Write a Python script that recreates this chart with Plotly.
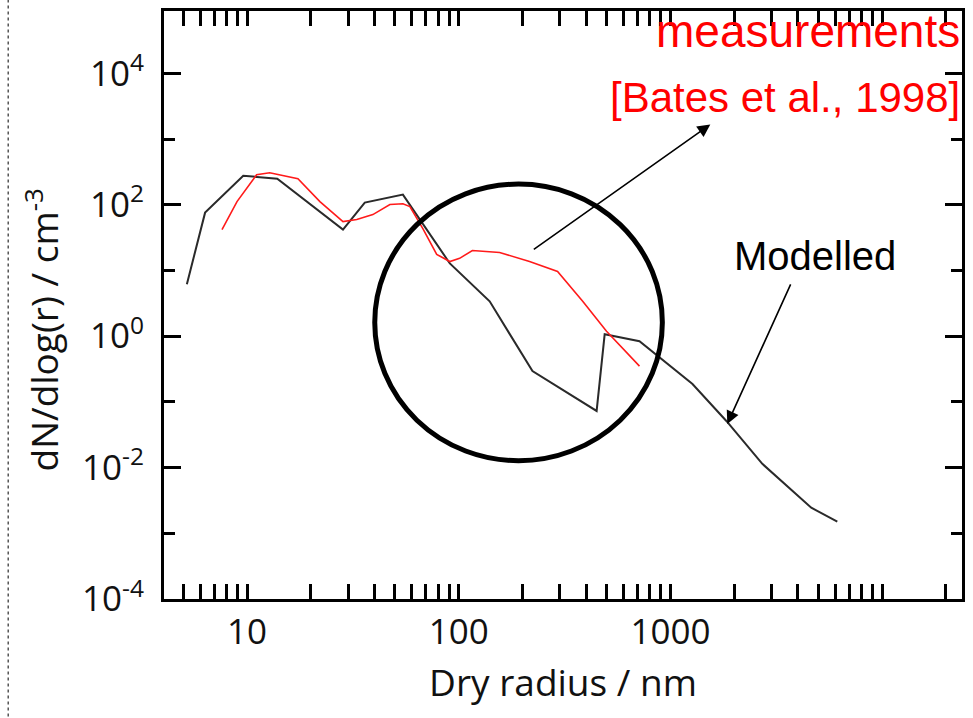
import plotly.graph_objects as go

# Modelled size distribution (dry radius nm, dN/dlog(r) cm^-3)
model_r = [5.2, 6.34, 9.6, 13.9, 28.4, 36, 54.5, 90.8, 140, 223, 448, 489, 714, 1271, 1837, 2716, 4624, 6138]
model_n = [6.2, 76, 277, 250, 42, 108, 143, 12.8, 3.4, 0.294, 0.0728, 1.07, 0.84, 0.187, 0.0513, 0.0114, 0.00245, 0.00151]

# Measurements [Bates et al., 1998]
meas_r = [7.62, 8.97, 11.1, 12.8, 17.4, 22.1, 28.4, 33, 39.3, 47.3, 54.5, 58.8, 67.7, 78.7, 90.8, 101, 116, 156, 216, 293, 385, 499, 714]
meas_n = [42, 112, 287, 308, 250, 112, 55.6, 59.6, 71, 101, 104, 94, 43.5, 17.6, 13.7, 15.3, 20.2, 18.8, 13.7, 9.7, 3.4, 1.19, 0.35]

x_tickvals = [10, 100, 1000]
x_ticktext = ["10", "100", "1000"]
y_major_vals = [1e-4, 1e-2, 1, 1e2, 1e4]
y_major_text = ["10<sup>-4</sup>", "10<sup>-2</sup>", "10<sup>0</sup>", "10<sup>2</sup>", "10<sup>4</sup>"]
y_minor_vals = [1e-3, 1e-1, 1e1, 1e3]

AXFONT = "Open Sans, Lato, sans-serif"
TXTFONT = "Liberation Sans, Arial, sans-serif"

fig = go.Figure()
fig.add_trace(go.Scatter(x=model_r, y=model_n, mode="lines", name="Modelled",
                         line=dict(color="#2a2a2a", width=2)))
fig.add_trace(go.Scatter(x=meas_r, y=meas_n, mode="lines", name="measurements",
                         line=dict(color="#ff1a1a", width=1.6)))

fig.update_layout(
    width=973, height=718,
    margin=dict(l=164, r=10, t=8, b=119),
    paper_bgcolor="white", plot_bgcolor="white",
    showlegend=False,
    font=dict(family=AXFONT, color="black"),
)

fig.update_xaxes(
    type="log", range=[0.608, 4.377],
    tickmode="array", tickvals=x_tickvals, ticktext=x_ticktext,
    ticks="inside", ticklen=15, tickwidth=2.5, tickcolor="black",
    minor=dict(ticks="inside", dtick="D1", ticklen=15, tickwidth=2.5, tickcolor="black", showgrid=False),
    showline=True, linecolor="black", linewidth=3, mirror="ticks",
    showgrid=False, zeroline=False,
    tickfont=dict(family=AXFONT, size=35, color="#111"),
    title=dict(text="Dry radius / nm", font=dict(family=AXFONT, size=37, color="#111"), standoff=18),
)
fig.update_yaxes(
    type="log", range=[-4, 4.95],
    tickmode="array", tickvals=y_major_vals, ticktext=y_major_text,
    ticks="inside", ticklen=17, tickwidth=2.5, tickcolor="black",
    minor=dict(ticks="inside", tickvals=y_minor_vals, ticklen=11, tickwidth=2.5, tickcolor="black", showgrid=False),
    showline=True, linecolor="black", linewidth=3, mirror="ticks",
    showgrid=False, zeroline=False,
    tickfont=dict(family=AXFONT, size=35, color="#111"),
    ticklabelstandoff=10,
)

# left dotted separator line
fig.add_shape(type="line", xref="paper", yref="paper", x0=-0.1952, x1=-0.1952, y0=-0.21, y1=1.02,
              line=dict(color="#555", width=1.5, dash="dot"))

# highlighting ellipse
fig.add_shape(type="circle", xref="paper", yref="paper", x0=0.2641, x1=0.6245, y0=0.2352, y1=0.7056,
              line=dict(color="black", width=5))

# y-axis title as rotated annotation
fig.add_annotation(xref="paper", yref="paper", x=-0.1527, y=0.457, xanchor="center", yanchor="middle",
                   showarrow=False, text="dN/dlog(r) / cm<sup>-3</sup>", textangle=-90,
                   font=dict(family=AXFONT, size=37, color="#111"))

# texts
fig.add_annotation(xref="paper", yref="paper", x=1.0, y=0.966, xanchor="right", yanchor="middle",
                   showarrow=False, text="measurements",
                   font=dict(family=TXTFONT, size=46, color="#ff0000"))
fig.add_annotation(xref="paper", yref="paper", x=1.0, y=0.853, xanchor="right", yanchor="middle",
                   showarrow=False, text="[Bates et al., 1998]",
                   font=dict(family=TXTFONT, size=42, color="#ff0000"))
fig.add_annotation(xref="paper", yref="paper", x=0.816, y=0.583, xanchor="center", yanchor="middle",
                   showarrow=False, text="Modelled",
                   font=dict(family=TXTFONT, size=40, color="black"))

# arrows
fig.add_annotation(xref="paper", yref="paper", x=0.6846, y=0.8071, ax=-178, ay=126, text="",
                   showarrow=True, arrowhead=2, arrowsize=1.6, arrowwidth=1.6, arrowcolor="black")
fig.add_annotation(xref="paper", yref="paper", x=0.7059, y=0.2978, ax=64, ay=-141, text="",
                   showarrow=True, arrowhead=2, arrowsize=1.6, arrowwidth=1.6, arrowcolor="black")

fig.write_html("out.html")
